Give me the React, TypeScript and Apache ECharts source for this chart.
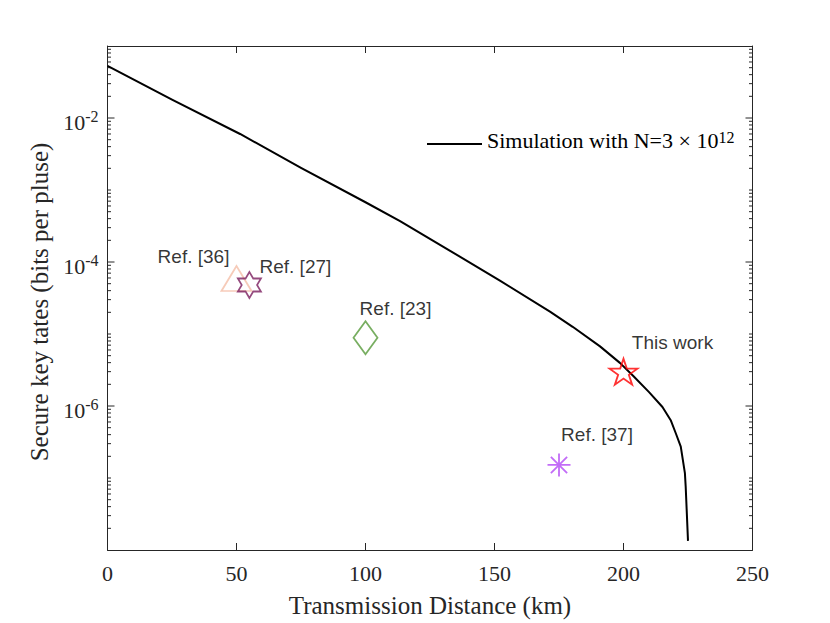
import React, { useEffect, useRef } from 'react';
import * as echarts from 'echarts';

// Simulation curve
const simDistance = [0, 25, 51.4, 75, 100, 113.4, 132.8, 152.1, 171.5, 180.3, 190.9, 198.6, 203.8, 209.9, 215.1, 218.3, 220.3, 222.2, 223.8, 224.1, 225.0];
const simRate = [0.0531, 0.01799, 0.005998, 0.002032, 6.76e-4, 3.69e-4, 1.429e-4, 5.53e-5, 2.04e-5, 1.259e-5, 6.73e-6, 3.97e-6, 2.61e-6, 1.56e-6, 9.68e-7, 6.35e-7, 4.15e-7, 2.72e-7, 1.167e-7, 7.66e-8, 1.34e-8];
const simName = 'Simulation with N=3 × 10^12';

// Experimental / reference points
const refNames = ['Ref. [36]', 'Ref. [27]', 'Ref. [23]', 'This work', 'Ref. [37]'];
const refDistance = [50, 55, 100, 200, 175];
const refRate = [5.9e-5, 4.8e-5, 8.9e-6, 3.0e-6, 1.52e-7];

// Axis ticks
const xMin = 0;
const xMax = 250;
const xInterval = 50;
const yMin = 1e-8;
const yMax = 1e-1;
const yLabelExponents = [-2, -4, -6];
const yDecades = [-8, -7, -6, -5, -4, -3, -2];
const minorMultipliers = [2, 3, 4, 5, 6, 7, 8, 9];

const xTitle = 'Transmission Distance (km)';
const yTitle = 'Secure key tates (bits per pluse)';

const serif = "'Liberation Serif', 'Times New Roman', serif";
const sans = "'Liberation Sans', Arial, sans-serif";
const axisColor = '#262626';

const hexagram = 'path://M50,0L64.43,25L93.3,25L78.87,50L93.3,75L64.43,75L50,100L35.57,75L6.7,75L21.13,50L6.7,25L35.57,25Z';
const pentagram = 'path://M50,0L61.23,34.55L97.55,34.55L68.17,55.9L79.39,90.45L50,69.1L20.61,90.45L31.83,55.9L2.45,34.55L38.77,34.55Z';
const asterisk = 'path://M50,0L50,100M0,50L100,50M14.64,14.64L85.36,85.36M85.36,14.64L14.64,85.36';

const refStyles = [
  { symbol: 'triangle', size: [30, 25], color: '#f4bea8', offset: [-43, -22] },
  { symbol: hexagram, size: [23, 26], color: '#7b1d5e', offset: [46, -18] },
  { symbol: 'diamond', size: [24, 33], color: '#569a3a', offset: [30, -29] },
  { symbol: pentagram, size: [28, 26], color: '#ff0000', offset: [49, -29] },
  { symbol: asterisk, size: [23, 23], color: '#b347f5', offset: [38, -30] },
];

function buildTicks() {
  const ticks: number[][] = [];
  yDecades.forEach((d) => {
    if (d > yDecades[0]) {
      const major = yLabelExponents.includes(d) ? 1 : 0;
      ticks.push([0, Math.pow(10, d), major]);
    }
    minorMultipliers.forEach((m) => {
      ticks.push([0, m * Math.pow(10, d), 0]);
    });
  });
  return ticks;
}

export default function App() {
  const ref = useRef<HTMLDivElement>(null);

  useEffect(() => {
    if (!ref.current) return;
    const chart = echarts.init(ref.current, null, { renderer: 'svg' });

    const scatterData = refNames.map((name, i) => ({
      name,
      value: [refDistance[i], refRate[i]],
      symbol: refStyles[i].symbol,
      symbolSize: refStyles[i].size,
      symbolKeepAspect: false,
      itemStyle: { color: 'rgba(0,0,0,0)', borderColor: refStyles[i].color, borderWidth: 1.8 },
      label: {
        show: true,
        position: 'inside',
        offset: refStyles[i].offset,
        formatter: name,
        fontFamily: sans,
        fontSize: 19,
        color: '#000',
      },
    }));

    const axisLineStyle = { show: true, onZero: false, lineStyle: { color: axisColor, width: 1 } };

    const option: any = {
      animation: false,
      backgroundColor: '#ffffff',
      grid: { left: 107.5, right: 77.5, top: 46, bottom: 67, containLabel: false },
      legend: {
        show: true,
        data: [{ name: simName, icon: 'rect' }],
        left: 427,
        top: 129,
        padding: 0,
        itemWidth: 55,
        itemHeight: 2,
        selectedMode: false,
        formatter: () => '{a|Simulation with N=3 × 10}{s|12}',
        textStyle: {
          rich: {
            a: { fontFamily: serif, fontSize: 22, color: '#000', padding: [0, 0, 8, 0] },
            s: { fontFamily: serif, fontSize: 16, color: '#000', verticalAlign: 'top' },
          },
        },
      },
      xAxis: [
        {
          type: 'value',
          min: xMin,
          max: xMax,
          interval: xInterval,
          position: 'bottom',
          axisLine: axisLineStyle,
          axisTick: { show: true, inside: true, length: 7, lineStyle: { color: axisColor } },
          axisLabel: { fontFamily: serif, fontSize: 22, color: axisColor, margin: 12 },
          splitLine: { show: false },
          name: xTitle,
          nameLocation: 'middle',
          nameGap: 43,
          nameTextStyle: { fontFamily: serif, fontSize: 25, color: axisColor },
        },
        {
          type: 'value',
          min: xMin,
          max: xMax,
          interval: xInterval,
          position: 'top',
          axisLine: axisLineStyle,
          axisTick: { show: true, inside: true, length: 7, lineStyle: { color: axisColor } },
          axisLabel: { show: false },
          splitLine: { show: false },
        },
      ],
      yAxis: [
        {
          type: 'log',
          logBase: 10,
          min: yMin,
          max: yMax,
          position: 'left',
          axisLine: axisLineStyle,
          axisTick: { show: false },
          minorTick: { show: false },
          splitLine: { show: false },
          minorSplitLine: { show: false },
          axisLabel: {
            margin: 9,
            color: axisColor,
            formatter: (v: number) => {
              const e = Math.round(Math.log10(v));
              return yLabelExponents.includes(e) ? `{b|10}{s|${e}}` : '';
            },
            rich: {
              b: { fontFamily: serif, fontSize: 22, color: axisColor, padding: [8, 0, 0, 0] },
              s: { fontFamily: serif, fontSize: 16, color: axisColor, verticalAlign: 'top', padding: [5, 0, 0, 0] },
            },
          },
          name: yTitle,
          nameLocation: 'middle',
          nameGap: 55,
          nameRotate: 90,
          nameTextStyle: { fontFamily: serif, fontSize: 25, color: axisColor, padding: [0, 8, 0, 0] },
        },
        {
          type: 'log',
          logBase: 10,
          min: yMin,
          max: yMax,
          position: 'right',
          axisLine: axisLineStyle,
          axisTick: { show: false },
          axisLabel: { show: false },
          splitLine: { show: false },
        },
      ],
      series: [
        {
          type: 'custom',
          name: 'yticks',
          silent: true,
          xAxisIndex: 0,
          yAxisIndex: 0,
          data: buildTicks(),
          renderItem: (params: any, api: any) => {
            const v = api.value(1);
            const major = api.value(2);
            const pt = api.coord([0, v]);
            const cs = params.coordSys;
            const len = major ? 7 : 3.5;
            const style = { stroke: axisColor, lineWidth: 1 };
            return {
              type: 'group',
              children: [
                { type: 'line', shape: { x1: cs.x, y1: pt[1], x2: cs.x + len, y2: pt[1] }, style },
                { type: 'line', shape: { x1: cs.x + cs.width - len, y1: pt[1], x2: cs.x + cs.width, y2: pt[1] }, style },
              ],
            };
          },
          z: 1,
        },
        {
          type: 'line',
          name: simName,
          data: simDistance.map((d, i) => [d, simRate[i]]),
          symbol: 'none',
          showSymbol: false,
          smooth: false,
          lineStyle: { color: '#000', width: 2, join: 'round' },
          itemStyle: { color: '#000' },
          z: 3,
        },
        {
          type: 'scatter',
          name: 'refs',
          data: scatterData,
          z: 4,
        },
      ],
    };

    chart.setOption(option);
    return () => chart.dispose();
  }, []);

  return <div ref={ref} style={{ position: 'fixed', left: 0, top: 0, width: 830, height: 623, background: '#fff' }} />;
}
